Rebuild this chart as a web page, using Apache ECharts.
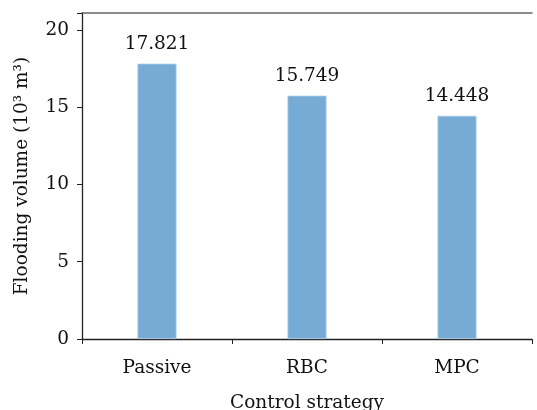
<!DOCTYPE html>
<html><head><meta charset="utf-8">
<script src="https://cdn.jsdelivr.net/npm/echarts@6/dist/echarts.min.js"></script>
<style>html,body{margin:0;padding:0;background:#fff}#c{width:537px;height:410px}</style>
</head><body><div id="c"></div>
<script>
const categories = ['Passive', 'RBC', 'MPC'];
const floodingVolume = [17.821, 15.749, 14.448];
const yTicks = [0, 5, 10, 15, 20];

const font = 'DejaVu Serif';
const fs = 18.5;
const chart = echarts.init(document.getElementById('c'));
chart.setOption({
  animation: false,
  backgroundColor: '#fff',
  grid: { left: 82, right: 5, top: 13, bottom: 71, containLabel: false, outerBoundsMode: 'none' },
  xAxis: [{
    type: 'category', data: categories, position: 'bottom',
    axisLine: { lineStyle: { color: '#222', width: 1.3 } },
    axisTick: { show: true, length: 5, lineStyle: { color: '#222' } },
    axisLabel: { color: '#111', fontFamily: font, fontSize: fs, margin: 20 },
    name: 'Control strategy', nameLocation: 'middle', nameGap: 55,
    nameTextStyle: { color: '#111', fontFamily: font, fontSize: fs }
  }, {
    type: 'category', data: categories, position: 'top',
    axisLine: { show: true, lineStyle: { color: '#666', width: 1.5 } },
    axisTick: { show: false }, axisLabel: { show: false }
  }],
  yAxis: {
    type: 'value', min: 0, max: 21.1, interval: 5,
    axisLine: { show: true, lineStyle: { color: '#222', width: 1.3 } },
    axisTick: { show: true, length: 5, inside: false, lineStyle: { color: '#222' } },
    splitLine: { show: false },
    axisLabel: { color: '#111', fontFamily: font, fontSize: fs, margin: 13,
      formatter: v => yTicks.includes(v) ? String(v) : '' },
    name: 'Flooding volume (10³ m³)', nameLocation: 'middle', nameGap: 50, nameRotate: 90,
    nameTextStyle: { color: '#111', fontFamily: font, fontSize: fs }
  },
  series: [{
    type: 'bar', data: floodingVolume, barWidth: 39, xAxisIndex: 0,
    itemStyle: { color: '#75abd4', borderColor: '#a9cbe6', borderWidth: 0.8 },
    label: { show: true, position: 'top', distance: 10, color: '#111',
      fontFamily: font, fontSize: fs, formatter: p => p.value.toFixed(3) }
  }]
});
</script></body></html>
